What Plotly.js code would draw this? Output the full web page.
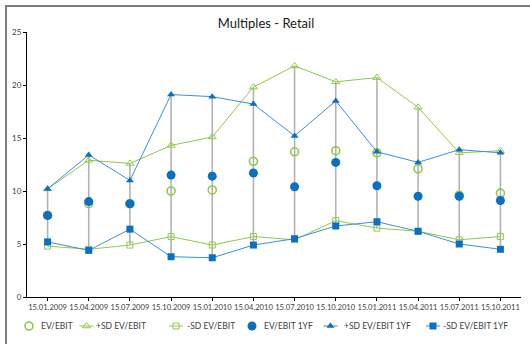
<!DOCTYPE html>
<html>
<head>
<meta charset="utf-8">
<script src="https://cdn.plot.ly/plotly-3.0.1.min.js"></script>
<style>
  html, body { margin: 0; padding: 0; background: #fff; }
  #wrap { position: relative; width: 530px; height: 344px; overflow: hidden; }
  #chart { position: absolute; left: 0; top: 0; width: 530px; height: 344px; }
  #frame { position: absolute; left: 5px; top: 5px; width: 600px; height: 400px;
           border-left: 2px solid #7c7c7c; border-top: 2px solid #7c7c7c; pointer-events: none; }
</style>
</head>
<body>
<div id="wrap"><div id="chart"></div><div id="frame"></div></div>
<script>
// Quarterly observation dates
const dates = ['15.01.2009', '15.04.2009', '15.07.2009', '15.10.2009', '15.01.2010', '15.04.2010',
               '15.07.2010', '15.10.2010', '15.01.2011', '15.04.2011', '15.07.2011', '15.10.2011'];

// Series names
const seriesNames = ['EV/EBIT', '+SD EV/EBIT', '-SD EV/EBIT', 'EV/EBIT 1YF', '+SD EV/EBIT 1YF', '-SD EV/EBIT 1YF'];

// Trailing EV/EBIT with +/- one standard deviation
const evEbit        = [7.7, 8.8, 8.8, 10.0, 10.1, 12.8, 13.7, 13.8, 13.6, 12.1, 9.6, 9.8];
const evEbitPlusSd  = [10.2, 12.9, 12.6, 14.3, 15.1, 19.8, 21.8, 20.3, 20.7, 17.9, 13.6, 13.8];
const evEbitMinusSd = [4.8, 4.5, 4.9, 5.7, 4.9, 5.7, 5.4, 7.2, 6.5, 6.2, 5.4, 5.7];

// One-year-forward EV/EBIT with +/- one standard deviation
const evEbit1yf        = [7.7, 9.0, 8.8, 11.5, 11.4, 11.7, 10.4, 12.7, 10.5, 9.5, 9.5, 9.1];
const evEbit1yfPlusSd  = [10.2, 13.4, 11.0, 19.1, 18.9, 18.2, 15.2, 18.5, 13.7, 12.7, 13.9, 13.6];
const evEbit1yfMinusSd = [5.2, 4.4, 6.4, 3.8, 3.7, 4.9, 5.5, 6.7, 7.1, 6.2, 5.0, 4.5];

const yTicks = [0, 5, 10, 15, 20, 25];

// ---- styling ----
const FONT = 'Lato, "Open Sans", sans-serif';
const GREEN = '#92c84a';
const BLUE = '#0b6fc2';
const BLUE_LINE = '#3d8fd6';

const styles = [
  { mode: 'markers', marker: { symbol: 'circle-open', size: 8, color: GREEN, line: { width: 1.6, color: GREEN } } },
  { mode: 'lines+markers', line: { color: GREEN, width: 1 },
    marker: { symbol: 'triangle-up-open', size: 7, color: GREEN, line: { width: 1, color: GREEN } } },
  { mode: 'lines+markers', line: { color: GREEN, width: 1 },
    marker: { symbol: 'square-open', size: 6, color: GREEN, line: { width: 1, color: GREEN } } },
  { mode: 'markers', marker: { symbol: 'circle', size: 9, color: BLUE } },
  { mode: 'lines+markers', line: { color: BLUE_LINE, width: 1 },
    marker: { symbol: 'triangle-up', size: 7, color: BLUE } },
  { mode: 'lines+markers', line: { color: BLUE_LINE, width: 1 },
    marker: { symbol: 'square', size: 7, color: BLUE } }
];

const allSeries = [evEbit, evEbitPlusSd, evEbitMinusSd, evEbit1yf, evEbit1yfPlusSd, evEbit1yfMinusSd];

// High-low lines spanning every series at each date
const hlX = [], hlY = [];
dates.forEach((d, i) => {
  const vals = allSeries.map(s => s[i]);
  hlX.push(d, d, null);
  hlY.push(Math.max(...vals), Math.min(...vals), null);
});

const traces = [{
  x: hlX, y: hlY, mode: 'lines', type: 'scatter',
  line: { color: '#b3b3b3', width: 1.6 }, hoverinfo: 'skip', showlegend: false
}];

allSeries.forEach((s, k) => {
  traces.push(Object.assign({ type: 'scatter', x: dates, y: s, name: seriesNames[k], showlegend: false }, styles[k]));
});

// ---- legend row (drawn on a pixel-scaled helper subplot) ----
const legendRowY = 326;
const legendSymbolX = [29, 86.5, 176, 252, 330.5, 433];
const legendTextX = [40, 95, 186, 263, 343, 442];
const legendLineHalf = 7;

const annotations = [];
styles.forEach((st, k) => {
  const cx = legendSymbolX[k];
  const hasLine = st.mode.indexOf('lines') >= 0;
  const gx = hasLine ? [cx - legendLineHalf, cx, cx + legendLineHalf] : [cx];
  const gy = gx.map(() => legendRowY);
  const marker = Object.assign({}, st.marker, { opacity: hasLine ? [0, 1, 0] : 1 });
  traces.push({
    type: 'scatter', xaxis: 'x2', yaxis: 'y2', x: gx, y: gy, mode: st.mode,
    line: st.line, marker: marker, showlegend: false, hoverinfo: 'skip', cliponaxis: false
  });
  annotations.push({
    xref: 'x2', yref: 'y2', x: legendTextX[k], y: legendRowY, text: seriesNames[k],
    showarrow: false, xanchor: 'left', yanchor: 'middle', borderpad: 0,
    font: { family: FONT, size: 8.5, color: '#404040' }
  });
});

const W = 530, H = 344;
const M = { l: 27, r: 9, t: 32, b: 10 };
const plotH = H - M.t - M.b;
const axisBottomPx = 297;

const layout = {
  width: W, height: H,
  margin: M,
  paper_bgcolor: '#fff', plot_bgcolor: 'rgba(0,0,0,0)',
  showlegend: false,
  title: {
    text: 'Multiples - Retail',
    font: { family: FONT, size: 13, color: '#1a1a1a' },
    x: 266 / W, xref: 'container', xanchor: 'center',
    y: 1 - 23 / H, yref: 'container', yanchor: 'middle'
  },
  xaxis: {
    type: 'category', range: [-0.5, dates.length - 0.5], domain: [0, 1], anchor: 'y',
    showline: true, linecolor: '#000', linewidth: 1, mirror: false,
    ticks: 'outside', ticklen: 3, tickcolor: '#000', tickwidth: 1, tickangle: 0,
    tickfont: { family: FONT, size: 7.6, color: '#404040' },
    showgrid: false, zeroline: false, fixedrange: true
  },
  yaxis: {
    range: [0, 25], tickvals: yTicks, ticktext: yTicks.map(String),
    domain: [(H - M.b - axisBottomPx) / plotH, 1], anchor: 'x',
    showline: true, linecolor: '#000', linewidth: 1,
    ticks: 'outside', ticklen: 3, tickcolor: '#000', tickwidth: 1,
    tickfont: { family: FONT, size: 8, color: '#404040' },
    showgrid: false, zeroline: false, fixedrange: true
  },
  xaxis2: { domain: [0, 1], range: [M.l, W - M.r], anchor: 'y2', visible: false, fixedrange: true },
  yaxis2: { domain: [0, 0.1], range: [H - M.b, H - M.b - 0.1 * plotH], anchor: 'x2', visible: false, fixedrange: true },
  annotations: annotations
};

Plotly.newPlot('chart', traces, layout, { displayModeBar: false, staticPlot: true });
</script>
</body>
</html>
